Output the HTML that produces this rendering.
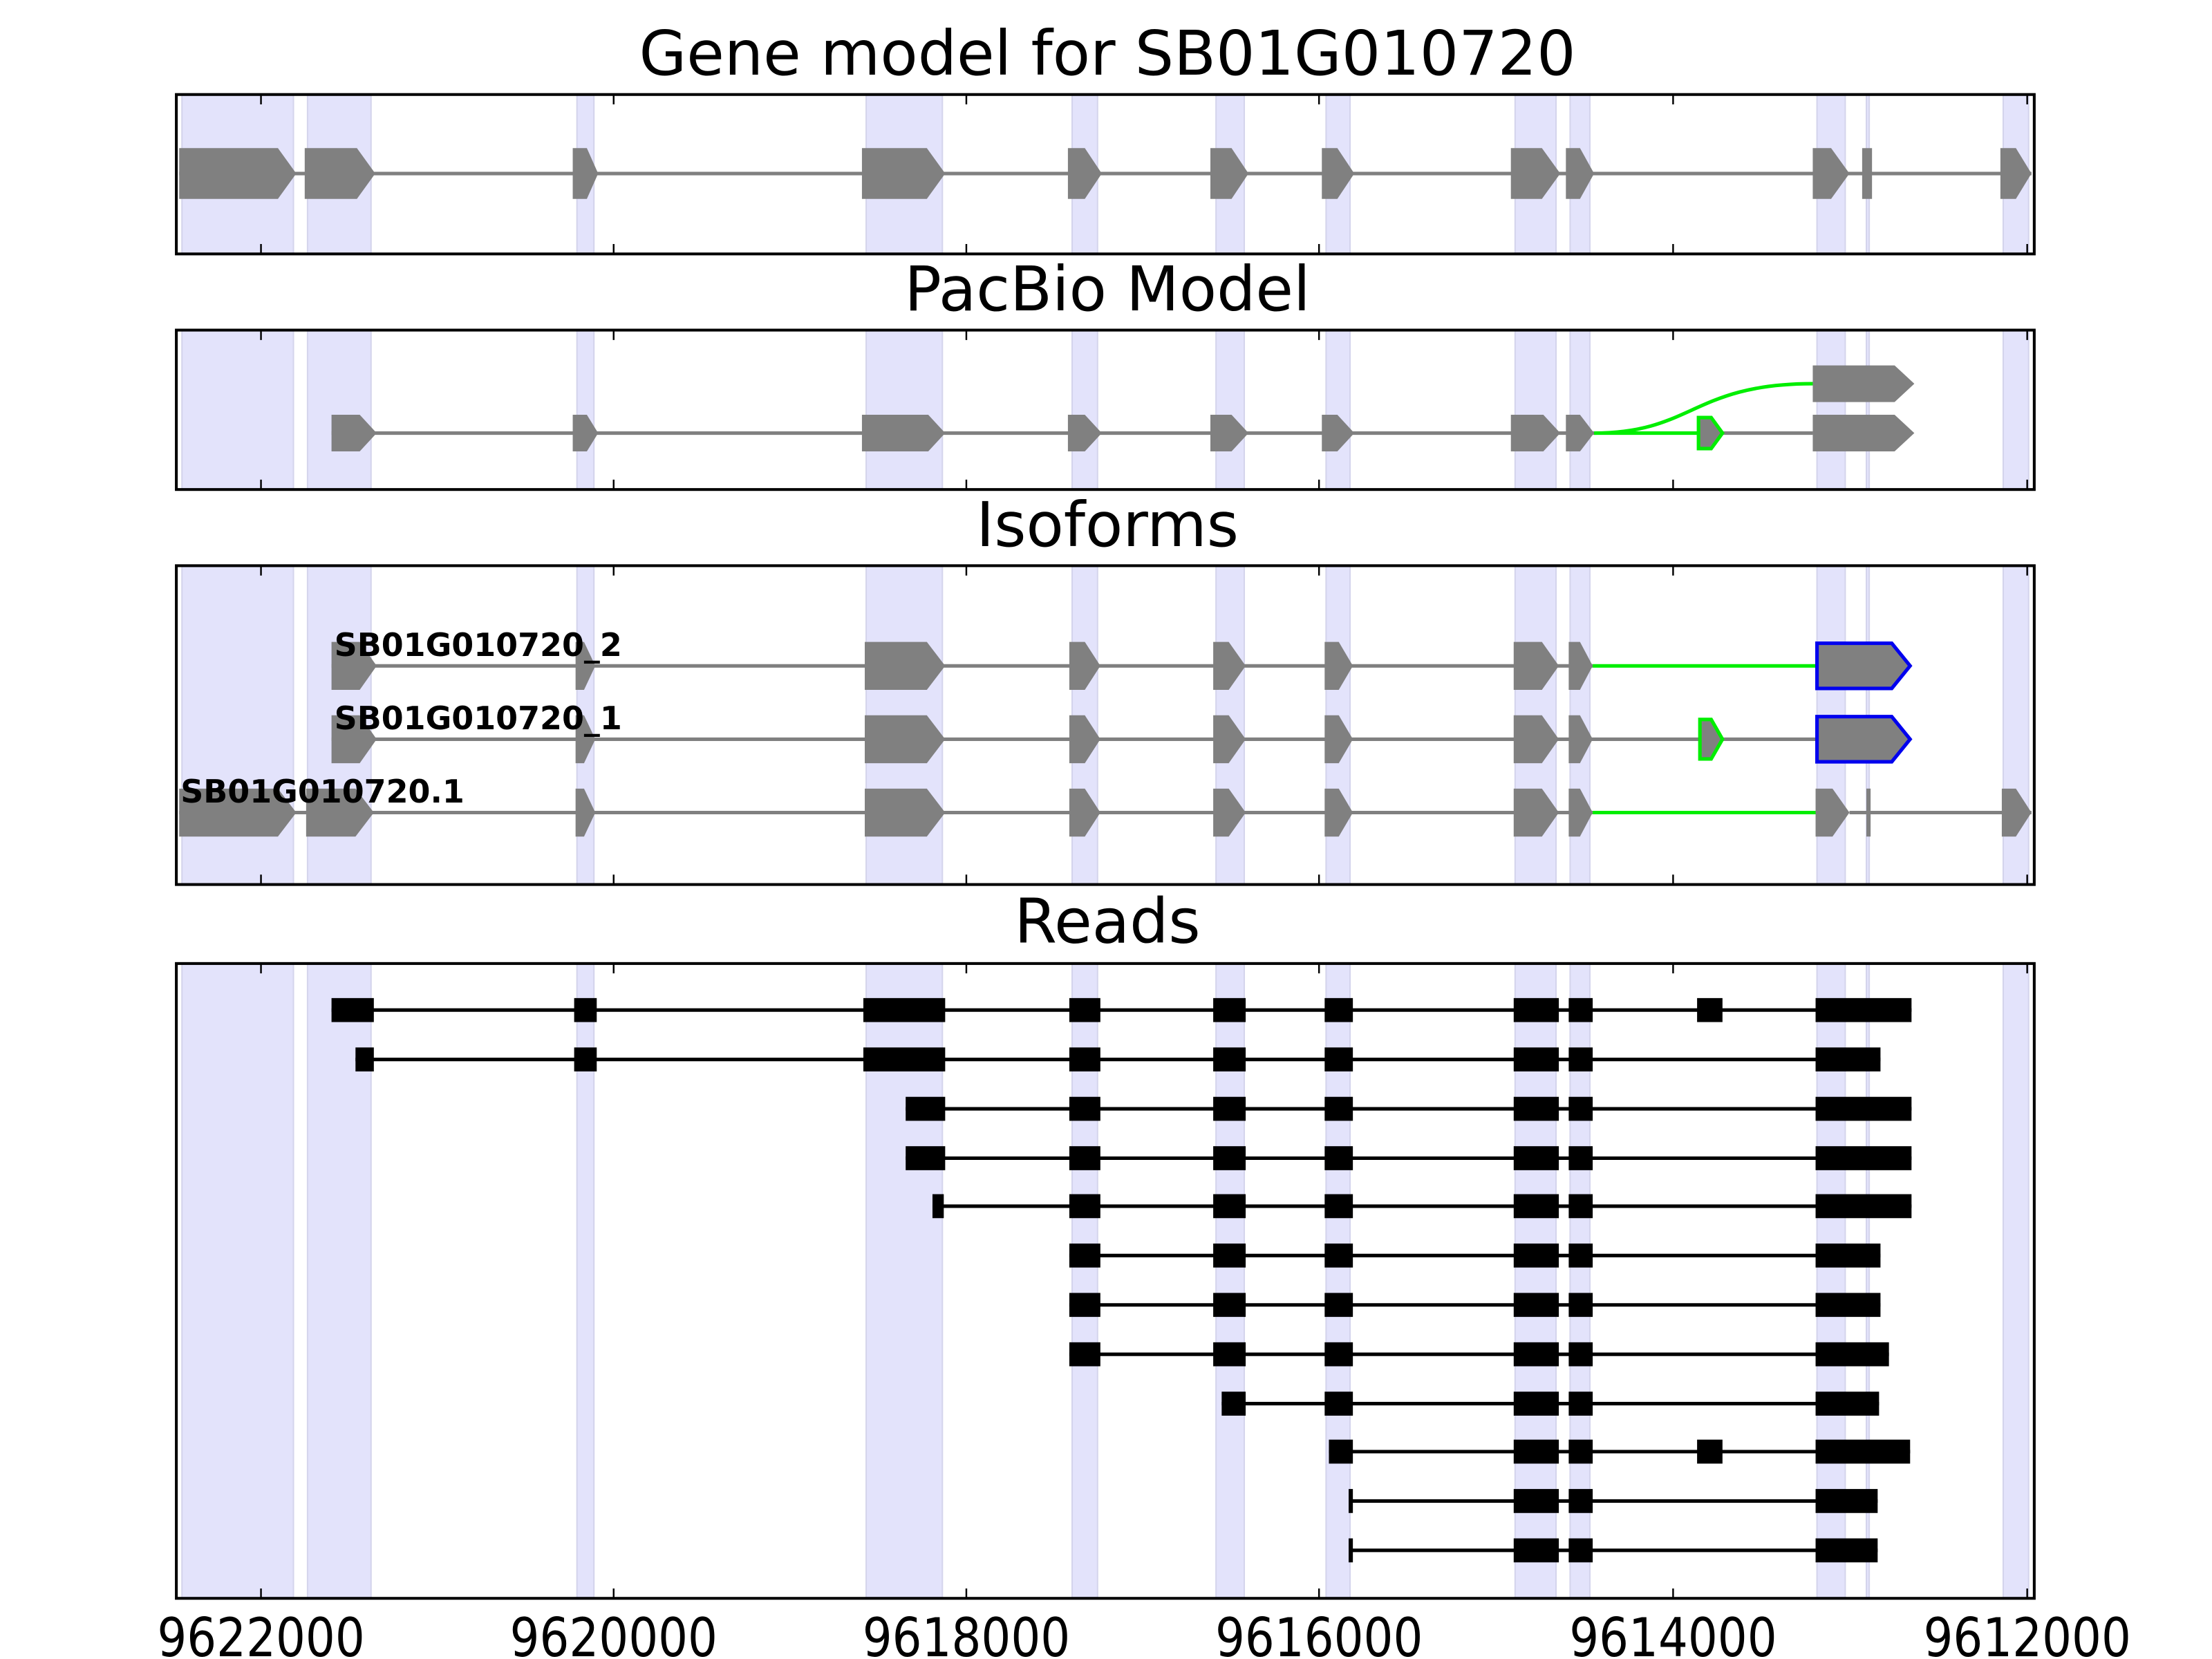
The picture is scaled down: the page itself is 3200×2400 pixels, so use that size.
<!DOCTYPE html>
<html><head><meta charset="utf-8"><style>html,body{margin:0;padding:0;background:#fff}svg{display:block}</style></head>
<body>
<svg width="3200" height="2400" viewBox="0 0 1568 1176" xmlns="http://www.w3.org/2000/svg" font-family="'DejaVu Sans','Liberation Sans',sans-serif">
<rect width="1568" height="1176" fill="#fff"/>
<!-- titles -->
<g font-size="43.5" text-anchor="middle" fill="#000">
<text x="785" y="53">Gene model for SB01G010720</text>
<text x="785" y="220">PacBio Model</text>
<text x="785" y="387">Isoforms</text>
<text x="785" y="668">Reads</text>
</g>

<!-- shaded regions per panel -->
<g fill="#e3e3fb" stroke="#d4d4ec" stroke-width="1">
<g>
<rect x="129" y="67" width="79" height="113"/><rect x="218" y="67" width="45" height="113"/><rect x="409" y="67" width="12" height="113"/><rect x="614" y="67" width="54" height="113"/><rect x="760" y="67" width="18" height="113"/><rect x="862" y="67" width="20" height="113"/><rect x="940" y="67" width="17" height="113"/><rect x="1074" y="67" width="29" height="113"/><rect x="1113" y="67" width="14" height="113"/><rect x="1288" y="67" width="20" height="113"/><rect x="1323" y="67" width="2" height="113"/><rect x="1420" y="67" width="18" height="113"/>
</g>
<g transform="translate(0,167)">
<rect x="129" y="67" width="79" height="113"/><rect x="218" y="67" width="45" height="113"/><rect x="409" y="67" width="12" height="113"/><rect x="614" y="67" width="54" height="113"/><rect x="760" y="67" width="18" height="113"/><rect x="862" y="67" width="20" height="113"/><rect x="940" y="67" width="17" height="113"/><rect x="1074" y="67" width="29" height="113"/><rect x="1113" y="67" width="14" height="113"/><rect x="1288" y="67" width="20" height="113"/><rect x="1323" y="67" width="2" height="113"/><rect x="1420" y="67" width="18" height="113"/>
</g>
<g>
<rect x="129" y="401" width="79" height="226"/><rect x="218" y="401" width="45" height="226"/><rect x="409" y="401" width="12" height="226"/><rect x="614" y="401" width="54" height="226"/><rect x="760" y="401" width="18" height="226"/><rect x="862" y="401" width="20" height="226"/><rect x="940" y="401" width="17" height="226"/><rect x="1074" y="401" width="29" height="226"/><rect x="1113" y="401" width="14" height="226"/><rect x="1288" y="401" width="20" height="226"/><rect x="1323" y="401" width="2" height="226"/><rect x="1420" y="401" width="18" height="226"/>
</g>
<g>
<rect x="129" y="683" width="79" height="450"/><rect x="218" y="683" width="45" height="450"/><rect x="409" y="683" width="12" height="450"/><rect x="614" y="683" width="54" height="450"/><rect x="760" y="683" width="18" height="450"/><rect x="862" y="683" width="20" height="450"/><rect x="940" y="683" width="17" height="450"/><rect x="1074" y="683" width="29" height="450"/><rect x="1113" y="683" width="14" height="450"/><rect x="1288" y="683" width="20" height="450"/><rect x="1323" y="683" width="2" height="450"/><rect x="1420" y="683" width="18" height="450"/>
</g>
</g>

<!-- Panel 1 gene model -->
<line x1="127" y1="123" x2="1440" y2="123" stroke="#808080" stroke-width="2.5"/>
<g fill="#808080">
<polygon points="127,105 197,105 210,123 197,141 127,141"/>
<polygon points="216,105 253,105 266,123 253,141 216,141"/>
<polygon points="406,105 416,105 424,123 416,141 406,141"/>
<polygon points="611,105 657,105 670,123 657,141 611,141"/>
<polygon points="757,105 769,105 781,123 769,141 757,141"/>
<polygon points="858,105 873,105 885,123 873,141 858,141"/>
<polygon points="937,105 948,105 960,123 948,141 937,141"/>
<polygon points="1071,105 1093,105 1106,123 1093,141 1071,141"/>
<polygon points="1110,105 1120,105 1130,123 1120,141 1110,141"/>
<polygon points="1285,105 1298,105 1311,123 1298,141 1285,141"/>
<rect x="1320" y="105" width="7" height="36"/>
<polygon points="1418,105 1429,105 1440,123 1429,141 1418,141"/>
</g>

<!-- Panel 2 PacBio -->
<line x1="235" y1="307" x2="1130" y2="307" stroke="#808080" stroke-width="2.5"/>
<line x1="1221" y1="307" x2="1285" y2="307" stroke="#808080" stroke-width="2.5"/>
<line x1="1130" y1="307" x2="1203" y2="307" stroke="#00ee00" stroke-width="2.5"/>
<path d="M1130,307 C1200,307 1200,272 1285,272" fill="none" stroke="#00ee00" stroke-width="2.5"/>
<g fill="#808080">
<polygon points="235,294 255,294 267,307 255,320 235,320"/>
<polygon points="406,294 416,294 424,307 416,320 406,320"/>
<polygon points="611,294 658,294 670,307 658,320 611,320"/>
<polygon points="757,294 769,294 781,307 769,320 757,320"/>
<polygon points="858,294 873,294 885,307 873,320 858,320"/>
<polygon points="937,294 948,294 960,307 948,320 937,320"/>
<polygon points="1071,294 1094,294 1106,307 1094,320 1071,320"/>
<polygon points="1110,294 1120,294 1130,307 1120,320 1110,320"/>
<polygon points="1285,294 1343,294 1357,307 1343,320 1285,320"/>
<polygon points="1285,259 1343,259 1357,272 1343,285 1285,285"/>
</g>
<polygon points="1204,296 1213,296 1221,307 1213,318 1204,318" fill="#808080" stroke="#00ee00" stroke-width="2.5"/>

<!-- Panel 3 Isoforms -->
<g stroke-width="2.5">
<line x1="235" y1="472" x2="1129" y2="472" stroke="#808080"/>
<line x1="1129" y1="472" x2="1288" y2="472" stroke="#00ee00"/>
<line x1="235" y1="524" x2="1288" y2="524" stroke="#808080"/>
<line x1="127" y1="576" x2="1129" y2="576" stroke="#808080"/>
<line x1="1129" y1="576" x2="1288" y2="576" stroke="#00ee00"/>
<line x1="1311" y1="576" x2="1440" y2="576" stroke="#808080"/>
</g>
<g fill="#808080" id="iso1">
<polygon points="235,455 255,455 267,472 255,489 235,489"/>
<polygon points="408,455 414,455 422,472 414,489 408,489"/>
<polygon points="613,455 657,455 670,472 657,489 613,489"/>
<polygon points="758,455 769,455 780,472 769,489 758,489"/>
<polygon points="860,455 871,455 883,472 871,489 860,489"/>
<polygon points="939,455 949,455 959,472 949,489 939,489"/>
<polygon points="1073,455 1093,455 1105,472 1093,489 1073,489"/>
<polygon points="1112,455 1120,455 1129,472 1120,489 1112,489"/>
</g>
<use href="#iso1" transform="translate(0,52)"/>
<g fill="#808080">
<polygon points="127,559 197,559 210,576 197,593 127,593"/>
<polygon points="217,559 252,559 265,576 252,593 217,593"/>
<polygon points="408,559 414,559 422,576 414,593 408,593"/>
<polygon points="613,559 657,559 670,576 657,593 613,593"/>
<polygon points="758,559 769,559 780,576 769,593 758,593"/>
<polygon points="860,559 871,559 883,576 871,593 860,593"/>
<polygon points="939,559 949,559 959,576 949,593 939,593"/>
<polygon points="1073,559 1093,559 1105,576 1093,593 1073,593"/>
<polygon points="1112,559 1120,559 1129,576 1120,593 1112,593"/>
<polygon points="1287,559 1299,559 1311,576 1299,593 1287,593"/>
<rect x="1323" y="559" width="3" height="34"/>
<polygon points="1419,559 1429,559 1440,576 1429,593 1419,593"/>
</g>
<g fill="#808080" stroke="#0000ee" stroke-width="2.5">
<polygon points="1288,456 1341,456 1354,472 1341,488 1288,488"/>
<polygon points="1288,508 1341,508 1354,524 1341,540 1288,540"/>
</g>
<polygon points="1205,510 1213,510 1221,524 1213,538 1205,538" fill="#808080" stroke="#00ee00" stroke-width="2.5"/>
<g font-size="22.5" font-weight="bold" fill="#000">
<text x="237" y="465">SB01G010720_2</text>
<text x="237" y="517">SB01G010720_1</text>
<text x="128" y="569">SB01G010720.1</text>
</g>

<!-- Panel 4 Reads -->
<g stroke="#000" stroke-width="2.5">
<line x1="235" y1="716" x2="1355" y2="716"/>
<line x1="252" y1="751" x2="1333" y2="751"/>
<line x1="642" y1="786" x2="1355" y2="786"/>
<line x1="642" y1="821" x2="1355" y2="821"/>
<line x1="661" y1="855" x2="1355" y2="855"/>
<line x1="758" y1="890" x2="1333" y2="890"/>
<line x1="758" y1="925" x2="1333" y2="925"/>
<line x1="758" y1="960" x2="1339" y2="960"/>
<line x1="866" y1="995" x2="1332" y2="995"/>
<line x1="942" y1="1029" x2="1354" y2="1029"/>
<line x1="957" y1="1064" x2="1331" y2="1064"/>
<line x1="957" y1="1099" x2="1331" y2="1099"/>
</g>
<g fill="#000">
<g transform="translate(0,707.5)">
<rect x="235" y="0" width="30" height="17"/><rect x="407" y="0" width="16" height="17"/><rect x="612" y="0" width="58" height="17"/><rect x="758" y="0" width="22" height="17"/><rect x="860" y="0" width="23" height="17"/><rect x="939" y="0" width="20" height="17"/><rect x="1073" y="0" width="32" height="17"/><rect x="1112" y="0" width="17" height="17"/><rect x="1203" y="0" width="18" height="17"/><rect x="1287" y="0" width="68" height="17"/>
</g>
<g transform="translate(0,742.5)">
<rect x="252" y="0" width="13" height="17"/><rect x="407" y="0" width="16" height="17"/><rect x="612" y="0" width="58" height="17"/><rect x="758" y="0" width="22" height="17"/><rect x="860" y="0" width="23" height="17"/><rect x="939" y="0" width="20" height="17"/><rect x="1073" y="0" width="32" height="17"/><rect x="1112" y="0" width="17" height="17"/><rect x="1287" y="0" width="46" height="17"/>
</g>
<g transform="translate(0,777.5)">
<rect x="642" y="0" width="28" height="17"/><rect x="758" y="0" width="22" height="17"/><rect x="860" y="0" width="23" height="17"/><rect x="939" y="0" width="20" height="17"/><rect x="1073" y="0" width="32" height="17"/><rect x="1112" y="0" width="17" height="17"/><rect x="1287" y="0" width="68" height="17"/>
</g>
<g transform="translate(0,812.5)">
<rect x="642" y="0" width="28" height="17"/><rect x="758" y="0" width="22" height="17"/><rect x="860" y="0" width="23" height="17"/><rect x="939" y="0" width="20" height="17"/><rect x="1073" y="0" width="32" height="17"/><rect x="1112" y="0" width="17" height="17"/><rect x="1287" y="0" width="68" height="17"/>
</g>
<g transform="translate(0,846.5)">
<rect x="661" y="0" width="8" height="17"/><rect x="758" y="0" width="22" height="17"/><rect x="860" y="0" width="23" height="17"/><rect x="939" y="0" width="20" height="17"/><rect x="1073" y="0" width="32" height="17"/><rect x="1112" y="0" width="17" height="17"/><rect x="1287" y="0" width="68" height="17"/>
</g>
<g transform="translate(0,881.5)">
<rect x="758" y="0" width="22" height="17"/><rect x="860" y="0" width="23" height="17"/><rect x="939" y="0" width="20" height="17"/><rect x="1073" y="0" width="32" height="17"/><rect x="1112" y="0" width="17" height="17"/><rect x="1287" y="0" width="46" height="17"/>
</g>
<g transform="translate(0,916.5)">
<rect x="758" y="0" width="22" height="17"/><rect x="860" y="0" width="23" height="17"/><rect x="939" y="0" width="20" height="17"/><rect x="1073" y="0" width="32" height="17"/><rect x="1112" y="0" width="17" height="17"/><rect x="1287" y="0" width="46" height="17"/>
</g>
<g transform="translate(0,951.5)">
<rect x="758" y="0" width="22" height="17"/><rect x="860" y="0" width="23" height="17"/><rect x="939" y="0" width="20" height="17"/><rect x="1073" y="0" width="32" height="17"/><rect x="1112" y="0" width="17" height="17"/><rect x="1287" y="0" width="52" height="17"/>
</g>
<g transform="translate(0,986.5)">
<rect x="866" y="0" width="17" height="17"/><rect x="939" y="0" width="20" height="17"/><rect x="1073" y="0" width="32" height="17"/><rect x="1112" y="0" width="17" height="17"/><rect x="1287" y="0" width="45" height="17"/>
</g>
<g transform="translate(0,1020.5)">
<rect x="942" y="0" width="17" height="17"/><rect x="1073" y="0" width="32" height="17"/><rect x="1112" y="0" width="17" height="17"/><rect x="1203" y="0" width="18" height="17"/><rect x="1287" y="0" width="67" height="17"/>
</g>
<g transform="translate(0,1055.5)">
<rect x="956" y="0" width="3" height="17"/><rect x="1073" y="0" width="32" height="17"/><rect x="1112" y="0" width="17" height="17"/><rect x="1287" y="0" width="44" height="17"/>
</g>
<g transform="translate(0,1090.5)">
<rect x="956" y="0" width="3" height="17"/><rect x="1073" y="0" width="32" height="17"/><rect x="1112" y="0" width="17" height="17"/><rect x="1287" y="0" width="44" height="17"/>
</g>
</g>

<!-- axes frames -->
<g fill="none" stroke="#000" stroke-width="2">
<rect x="125" y="67" width="1317" height="113"/>
<rect x="125" y="234" width="1317" height="113"/>
<rect x="125" y="401" width="1317" height="226"/>
<rect x="125" y="683" width="1317" height="450"/>
</g>
<!-- ticks -->
<g stroke="#000" stroke-width="1.2">
<path d="M185,67v7M435,67v7M685,67v7M935,67v7M1186,67v7M1437,67v7 M185,180v-7M435,180v-7M685,180v-7M935,180v-7M1186,180v-7M1437,180v-7"/>
<path d="M185,234v7M435,234v7M685,234v7M935,234v7M1186,234v7M1437,234v7 M185,347v-7M435,347v-7M685,347v-7M935,347v-7M1186,347v-7M1437,347v-7"/>
<path d="M185,401v7M435,401v7M685,401v7M935,401v7M1186,401v7M1437,401v7 M185,627v-7M435,627v-7M685,627v-7M935,627v-7M1186,627v-7M1437,627v-7"/>
<path d="M185,683v7M435,683v7M685,683v7M935,683v7M1186,683v7M1437,683v7 M185,1133v-7M435,1133v-7M685,1133v-7M935,1133v-7M1186,1133v-7M1437,1133v-7"/>
</g>
<g font-size="38" text-anchor="middle" fill="#000">
<text transform="translate(185,1174) scale(0.87,1)">9622000</text>
<text transform="translate(435,1174) scale(0.87,1)">9620000</text>
<text transform="translate(685,1174) scale(0.87,1)">9618000</text>
<text transform="translate(935,1174) scale(0.87,1)">9616000</text>
<text transform="translate(1186,1174) scale(0.87,1)">9614000</text>
<text transform="translate(1437,1174) scale(0.87,1)">9612000</text>
</g>
</svg>
</body></html>
